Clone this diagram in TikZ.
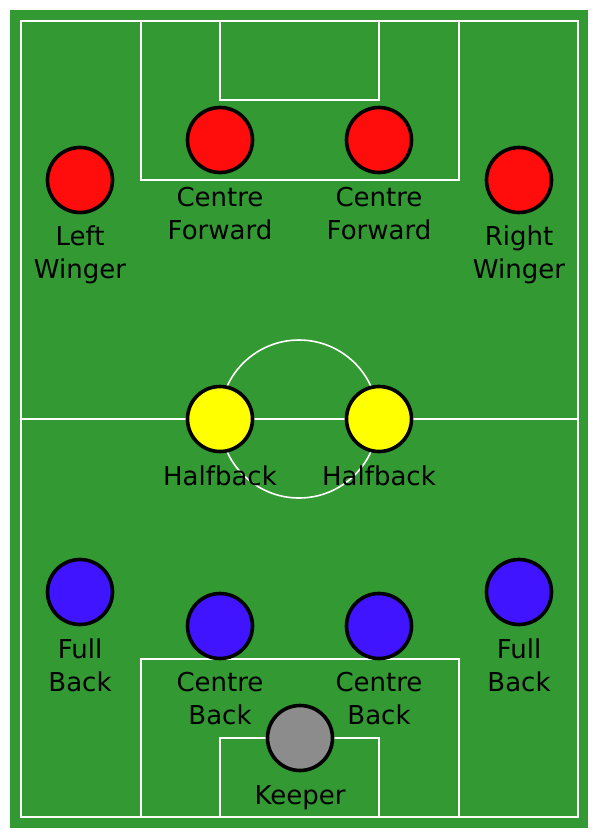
\documentclass[tikz,border=0pt]{standalone}
\usepackage{fontspec}
\setmainfont{DejaVu Sans}
\definecolor{pitch}{RGB}{51,153,51}
\definecolor{fwdred}{RGB}{255,13,13}
\definecolor{halfyel}{RGB}{255,255,0}
\definecolor{backblue}{RGB}{64,20,255}
\definecolor{keepgray}{RGB}{140,140,140}
\begin{document}
\begin{tikzpicture}[x=1pt,y=-1pt,
  pitchline/.style={draw=white,line width=1.6pt},
  player/.style={circle,draw=black,line width=3.6pt,minimum size=65pt,inner sep=0pt},
  lbl/.style={anchor=north,inner sep=0pt,align=center,text=black,font=\fontsize{26}{33}\selectfont}]
\useasboundingbox (0,0) rectangle (600,839);
\fill[white] (0,0) rectangle (600,839);
\fill[pitch] (10,10) rectangle (588,828);
% lines
\draw[pitchline] (21,21) rectangle (578,817);
\draw[pitchline] (21,419) -- (578,419);
\draw[pitchline] (299,419) circle[radius=79];
\draw[pitchline] (141,21) rectangle (459,180);
\draw[pitchline] (220,21) rectangle (379,100);
\draw[pitchline] (141,659) rectangle (459,817);
\draw[pitchline] (220,738) rectangle (379,817);
% players
\node[player,fill=fwdred] (lw) at (80,180) {};
\node[player,fill=fwdred] (cfl) at (220,140) {};
\node[player,fill=fwdred] (cfr) at (379,140) {};
\node[player,fill=fwdred] (rw) at (519,180) {};
\node[player,fill=halfyel] (hbl) at (220,419) {};
\node[player,fill=halfyel] (hbr) at (379,419) {};
\node[player,fill=backblue] (fbl) at (80,592) {};
\node[player,fill=backblue] (fbr) at (519,592) {};
\node[player,fill=backblue] (cbl) at (220,626) {};
\node[player,fill=backblue] (cbr) at (379,626) {};
\node[player,fill=keepgray] (gk) at (300,738) {};
% labels
\node[lbl] (tlw) at (80,226) {Left\\Winger};
\node[lbl] (tcfl) at (220,187) {Centre\\Forward};
\node[lbl] (tcfr) at (379,187) {Centre\\Forward};
\node[lbl] (trw) at (519,226) {Right\\Winger};
\node[lbl] (thbl) at (220,466) {Halfback};
\node[lbl] (thbr) at (379,466) {Halfback};
\node[lbl] (tfbl) at (80,639) {Full\\Back};
\node[lbl] (tfbr) at (519,639) {Full\\Back};
\node[lbl] (tcbl) at (220,672) {Centre\\Back};
\node[lbl] (tcbr) at (379,672) {Centre\\Back};
\node[lbl] (tgk) at (300,785) {Keeper};
\end{tikzpicture}
\end{document}
